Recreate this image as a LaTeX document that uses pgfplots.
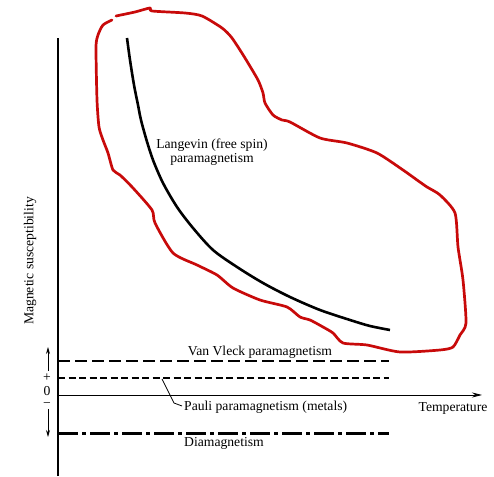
\documentclass[border=0pt]{standalone}
\usepackage{fontspec}
\setmainfont{Liberation Serif}
\usepackage{pgfplots}
\pgfplotsset{compat=1.18}
\usetikzlibrary{arrows.meta}
\definecolor{loopred}{RGB}{200,10,10}
\newcommand\lbl{\fontsize{13.7}{14}\selectfont}

\begin{document}
\begin{tikzpicture}
\begin{axis}[
  scale only axis, width=424bp, height=438bp,
  xmin=0, xmax=424, ymin=-81, ymax=357,
  axis y line*=left, axis x line=middle,
  x axis line style={-{Stealth[length=10bp,width=5bp]}, line width=0.9bp},
  y axis line style={line width=1.2bp},
  xtick=\empty, ytick=\empty,
  clip=false,
]
% page size
\addplot[draw=none, forget plot] coordinates {(-58,395) (436,-81)};

% Langevin (free spin)
\addplot[black, line width=2.6bp, smooth, no markers] coordinates {
  (69,357) (72,335) (76,310) (80,290) (83,275) (88.5,255) (95,235)
  (105,212) (119,188) (135,167) (155,145) (179,128) (205,112)
  (232,98) (262,85) (292,75) (312,69) (332,65)
};
% Van Vleck
\addplot[black, line width=2.7bp, no markers, dash pattern=on 12bp off 5bp] coordinates {(0,34) (331,34)};
% Pauli
\addplot[black, line width=2.4bp, no markers, dash pattern=on 7bp off 3.5bp] coordinates {(0,17) (331,17)};
% Diamagnetism
\addplot[black, line width=2.7bp, no markers, dash pattern=on 20bp off 4bp on 4bp off 4bp] coordinates {(0,-38.5) (331,-38.5)};
% leader to Pauli label
\addplot[black, line width=0.8bp, no markers] coordinates {(104,16) (116,-8) (124,-11)};
% sign arrows
\addplot[black, line width=0.9bp, no markers, -{Stealth[length=7bp,width=4bp]}] coordinates {(-10,24) (-10,48)};
\addplot[black, line width=0.9bp, no markers, -{Stealth[length=7bp,width=4bp]}] coordinates {(-10,-14) (-10,-42)};

% hand-drawn red loop
\addplot[loopred, line width=2.7bp, no markers, smooth, tension=0.4, line join=round, line cap=round] coordinates {
  (58,379) (77,383) (92,387) (94,384) (127,382) (144,379) (164,367) (174,357)
  (187,337) (200,315) (205,302) (207,292) (215,280) (224,275) (232,273) (262,257)
  (289,252) (319,242) (345,225) (359,215) (369,208) (382,200) (397,182) (400,148)
  (405,115) (408,72) (402,60) (395,48) (382,45) (342,43) (309,50) (285,52)
  (275,62) (265,68) (252,75) (242,78) (229,88) (202,95) (175,107) (159,120)
  (139,130) (115,142) (97,172) (94,185) (75,207) (62,220) (55,225) (50,242)
  (45,255) (41,268) (39,295) (38,348) (40,360) (45,370) (54,375)
};

\node[font=\lbl, align=center] at (axis cs:154,243) {Langevin (free spin)\\paramagnetism};
\node[font=\lbl] at (axis cs:202,43) {Van Vleck paramagnetism};
\node[font=\lbl, anchor=west, inner sep=0pt] at (axis cs:126,-12) {Pauli paramagnetism (metals)};
\node[font=\lbl] at (axis cs:395,-13) {Temperature};
\node[font=\lbl] at (axis cs:166,-48) {Diamagnetism};
\node[font=\lbl, rotate=90] at (axis cs:-28,134) {Magnetic susceptibility};
\node[font=\lbl, inner sep=0pt] at (axis cs:-11,17) {+};
\node[font=\lbl, inner sep=0pt] at (axis cs:-11,4) {0};
\node[font=\lbl, inner sep=0pt] at (axis cs:-11,-10.5) {−};
\end{axis}
\end{tikzpicture}
\end{document}
